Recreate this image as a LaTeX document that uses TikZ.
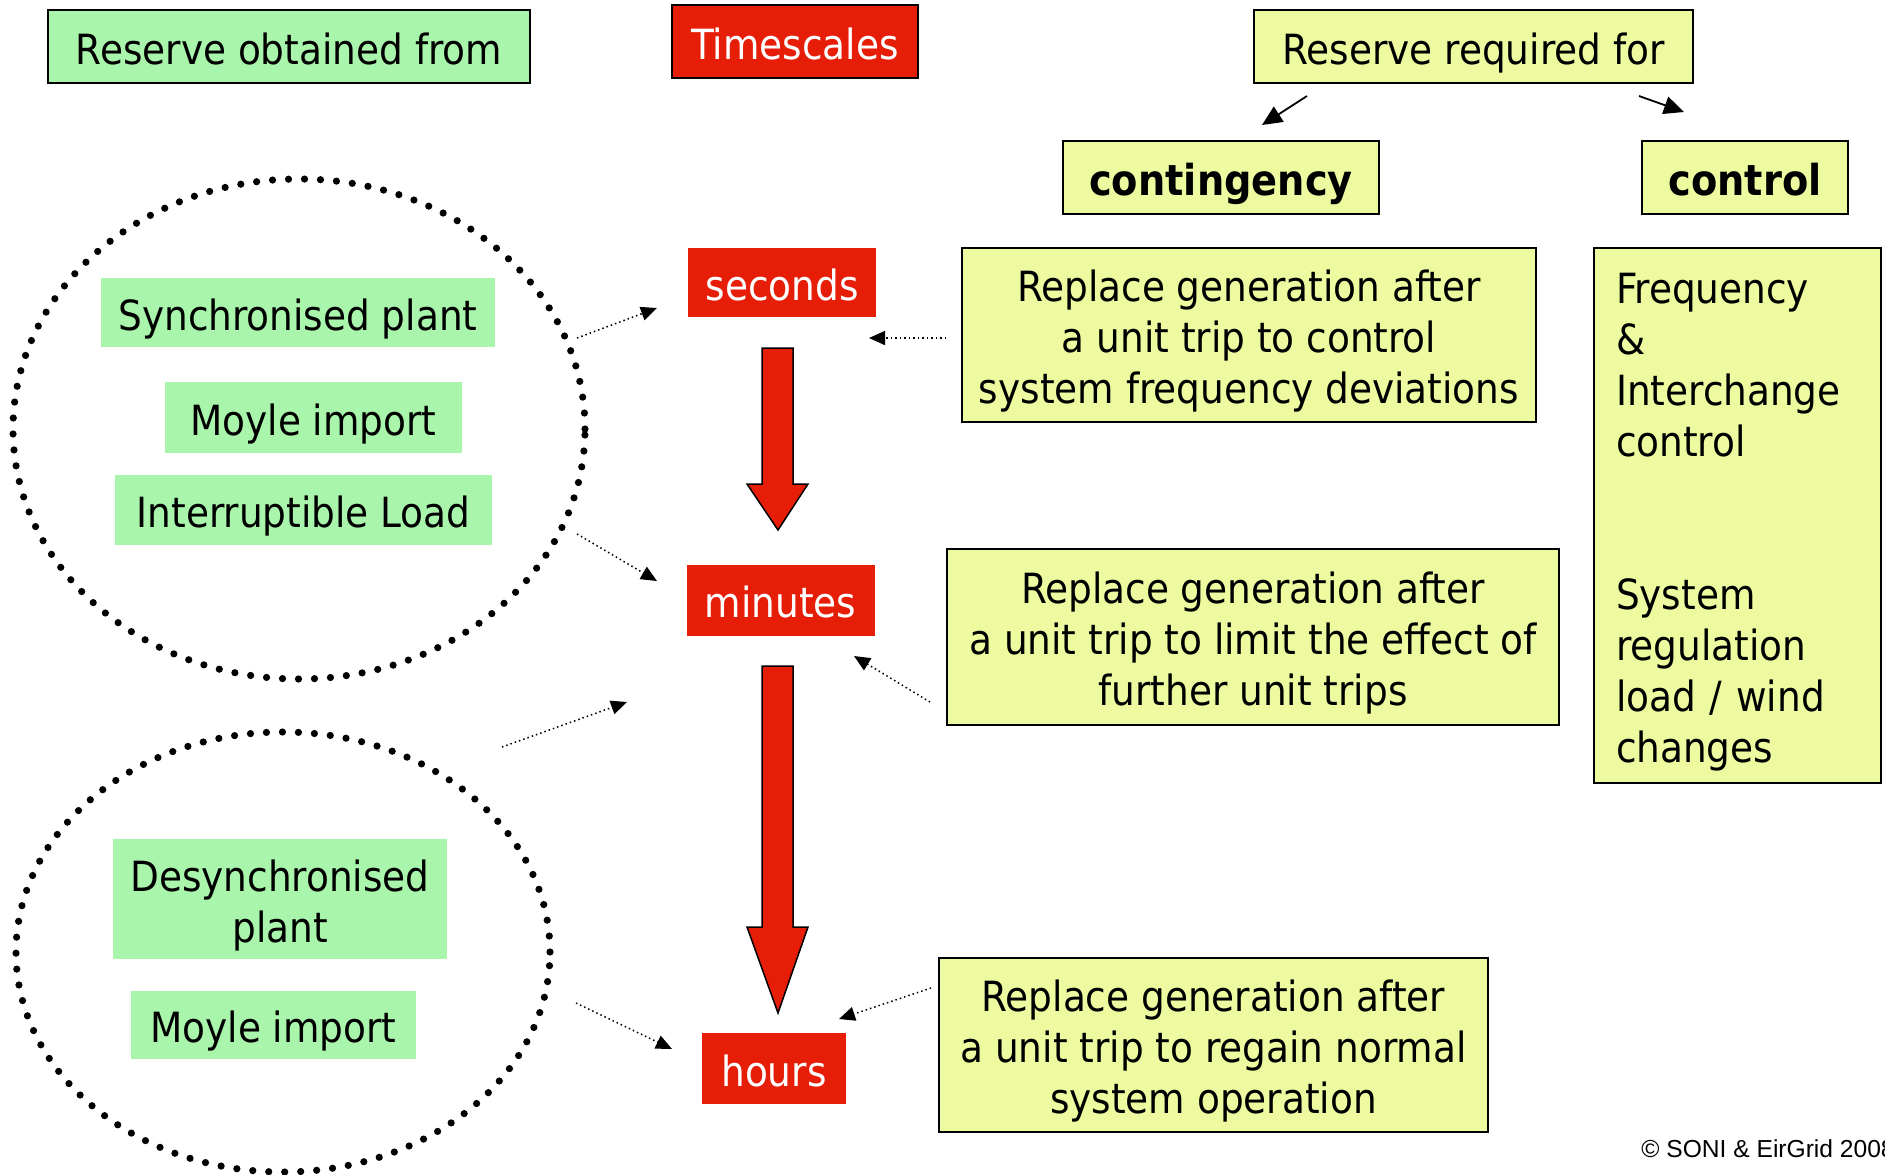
\documentclass[tikz,border=0pt]{standalone}
\usepackage{fontspec}
\setmainfont{DejaVu Sans Condensed}
\newfontfamily\cfont{Liberation Sans}
\usetikzlibrary{arrows.meta}
\definecolor{gfill}{RGB}{169,245,172}
\definecolor{yfill}{RGB}{238,250,160}
\definecolor{rfill}{RGB}{230,30,8}
\begin{document}
\begin{tikzpicture}[x=0.5pt,y=-0.5pt,
  box/.style={inner sep=0pt, outer sep=0pt, align=center, font=\fontsize{20.8}{25.5}\selectfont, text height=19pt, text depth=1.4pt},
  two/.style={text height=44.5pt},
  three/.style={text height=70pt},
  gbox/.style={box, fill=gfill},
  ybox/.style={box, fill=yfill, draw=black, line width=0.75pt},
  rbox/.style={box, fill=rfill, text=white},
  boldtxt/.style={font=\fontsize{21.3}{25.5}\selectfont\bfseries},
  dotarrow/.style={line width=0.75pt, dash pattern=on 0.75pt off 1.5pt, -{Triangle[length=8pt,width=7pt]}},
  solidarrow/.style={line width=0.9pt, -{Triangle[length=10pt,width=9pt]}},
  dotring/.style={line width=3.6pt, dash pattern=on 0pt off 8pt, line cap=round},
  bigarrow/.style={fill=rfill, draw=black, line width=0.75pt, line join=miter}
]
\useasboundingbox (0,0) rectangle (1885,1174);

% header boxes
\node[gbox, draw=black, line width=0.75pt, minimum width=241pt, minimum height=36.5pt] (rof) at (289,46.5) {Reserve obtained from};
\node[rbox, draw=black, line width=0.75pt, minimum width=123pt, minimum height=36.5pt] (ts) at (795,41.5) {Timescales};
\node[ybox, minimum width=219.5pt, minimum height=36.5pt] (rrf) at (1473.5,46.5) {Reserve required for};
\node[ybox, boldtxt, minimum width=158pt, minimum height=36.5pt] (cont) at (1221,177.5) {contingency};
\node[ybox, boldtxt, minimum width=103pt, minimum height=36.5pt] (ctrl) at (1745,177.5) {control};

% yellow description boxes
\node[ybox, three, minimum width=287pt, minimum height=87pt] (b1) at (1249,335) {Replace generation after\\a unit trip to control\\system frequency deviations};
\node[ybox, three, minimum width=306pt, minimum height=88pt] (b2) at (1253,637) {Replace generation after\\a unit trip to limit the effect of\\further unit trips};
\node[ybox, three, minimum width=274.5pt, minimum height=87pt] (b3) at (1213.5,1045) {Replace generation after\\a unit trip to regain normal\\system operation};
\node[ybox, align=left, inner xsep=11pt, text width=121.5pt, text depth=230.9pt, minimum height=267.5pt] (rt) at (1737.5,515.5) {Frequency\\\&\\Interchange\\control\\[51pt]System\\regulation\\load / wind\\changes};

% timescale boxes
\node[rbox, minimum width=94pt, minimum height=34.5pt] (sec) at (782,282.5) {seconds};
\node[rbox, minimum width=94pt, minimum height=35.5pt] (min) at (780.5,600) {minutes};
\node[rbox, minimum width=72pt, minimum height=35.5pt] (hrs) at (774,1068.5) {hours};

% green source boxes
\node[gbox, minimum width=197pt, minimum height=34.5pt] (sync) at (298,312.5) {Synchronised plant};
\node[gbox, minimum width=148.5pt, minimum height=35.5pt] (moy1) at (313.5,417.5) {Moyle import};
\node[gbox, minimum width=188.5pt, minimum height=35pt] (intr) at (303.5,510) {Interruptible Load};
\node[gbox, two, minimum width=167pt, minimum height=60pt] (desync) at (280,899) {Desynchronised\\plant};
\node[gbox, minimum width=142.5pt, minimum height=34pt] (moy2) at (273.5,1025) {Moyle import};

% dotted rings
\draw[dotring] (299,429) ellipse [x radius=143pt, y radius=125pt];
\draw[dotring] (283,952) ellipse [x radius=133.5pt, y radius=110pt];

% big red arrows
\draw[bigarrow] (762,348) -- (793,348) -- (793,484) -- (808,484) -- (778,530) -- (747,484) -- (762,484) -- cycle;
\draw[bigarrow] (762,666) -- (793,666) -- (793,927) -- (808,927) -- (778,1013) -- (747,927) -- (762,927) -- cycle;

% top arrows
\coordinate (t1s) at (1307,96);
\coordinate (t1e) at (1262,125);
\coordinate (t2s) at (1639,96);
\coordinate (t2e) at (1684,112);
\draw[solidarrow] (t1s) -- (t1e);
\draw[solidarrow] (t2s) -- (t2e);

% dotted connectors
\coordinate (a1s) at (577,338);  \coordinate (a1e) at (657,308);
\coordinate (a2s) at (577,534);  \coordinate (a2e) at (657,581);
\coordinate (a3s) at (502,747);  \coordinate (a3e) at (627,702);
\coordinate (a4s) at (930,702);  \coordinate (a4e) at (854,656);
\coordinate (a5s) at (946,338);  \coordinate (a5e) at (869,338);
\coordinate (a6s) at (576,1003); \coordinate (a6e) at (672,1049);
\coordinate (a7s) at (931,988);  \coordinate (a7e) at (839,1019);
\foreach \n in {1,...,7} {\draw[dotarrow] (a\n s) -- (a\n e);}

% copyright
\node[anchor=west, inner sep=0pt, font=\cfont\fontsize{12.3}{14}\selectfont] (copy) at (1641,1149) {© SONI \& EirGrid 2008};
\end{tikzpicture}
\end{document}
